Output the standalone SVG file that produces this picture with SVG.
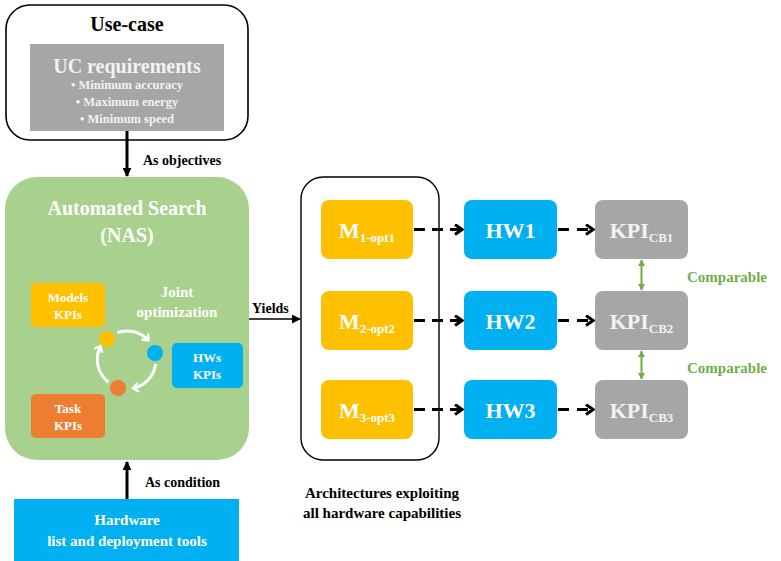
<svg xmlns="http://www.w3.org/2000/svg" width="781" height="561" viewBox="0 0 781 561">
<defs>
<style>
.c{text-anchor:middle}
.w{fill:#ffffff}
.lg{fill:#f2f2f2}
.k{fill:#000000}
.g{fill:#70ad47}
.dash{stroke:#000;stroke-width:3;stroke-dasharray:11 7;fill:none;marker-end:url(#chev)}
.loop{stroke:#fff;stroke-width:3;fill:none;marker-end:url(#wchev)}
</style>
<marker id="chev" viewBox="0 0 10 12" refX="8" refY="6" markerWidth="10" markerHeight="12" markerUnits="userSpaceOnUse" orient="auto">
<path d="M1,1 L8,6 L1,11" fill="none" stroke="#000" stroke-width="3"/>
</marker>
<marker id="wchev" viewBox="0 0 10 12" refX="7" refY="6" markerWidth="9" markerHeight="11" markerUnits="userSpaceOnUse" orient="auto">
<path d="M1,1 L7,6 L1,11" fill="none" stroke="#fff" stroke-width="2.6"/>
</marker>
<marker id="tri" viewBox="0 0 10 10" refX="9" refY="5" markerWidth="9" markerHeight="9" markerUnits="userSpaceOnUse" orient="auto">
<path d="M0,0 L10,5 L0,10 z" fill="#000"/>
</marker>
<marker id="gtri" viewBox="0 0 10 10" refX="9" refY="5" markerWidth="7" markerHeight="7" markerUnits="userSpaceOnUse" orient="auto-start-reverse">
<path d="M0,0 L10,5 L0,10 z" fill="#70ad47"/>
</marker>
</defs>
<rect width="781" height="561" fill="#ffffff"/>

<g id="usecase">
<rect x="6" y="5" width="242" height="135" rx="24" fill="#fff" stroke="#000" stroke-width="1.6"/>
<text x="127" y="31" font-family="Liberation Serif" font-weight="bold" font-size="20" class="c k">Use-case</text>
<rect x="30" y="44" width="194" height="87" fill="#a6a6a6"/>
<text x="127" y="73" font-family="Liberation Serif" font-weight="bold" font-size="20" class="c lg">UC requirements</text>
<text x="127" y="89" font-family="Liberation Serif" font-weight="bold" font-size="12.5" class="c lg">&#8226;  Minimum accuracy</text>
<text x="127" y="106" font-family="Liberation Serif" font-weight="bold" font-size="12.5" class="c lg">&#8226;  Maximum energy</text>
<text x="127" y="123" font-family="Liberation Serif" font-weight="bold" font-size="12.5" class="c lg">&#8226;  Minimum speed</text>
</g>

<g id="nas">
<rect x="5" y="177" width="244" height="283" rx="32" fill="#a9d18e"/>
<text x="127" y="215" font-family="Liberation Serif" font-weight="bold" font-size="20" class="c w">Automated Search</text>
<text x="127" y="242" font-family="Liberation Serif" font-weight="bold" font-size="20" class="c w">(NAS)</text>
<g id="models-kpis">
<rect x="31" y="283" width="74" height="44" rx="5" fill="#ffc000"/>
<text x="68" y="302" font-family="Liberation Serif" font-weight="bold" font-size="13" class="c w">Models</text>
<text x="68" y="319" font-family="Liberation Serif" font-weight="bold" font-size="13" class="c w">KPIs</text>
</g>
<g id="task-kpis">
<rect x="31" y="394" width="74" height="44" rx="5" fill="#ed7d31"/>
<text x="68" y="413" font-family="Liberation Serif" font-weight="bold" font-size="13" class="c w">Task</text>
<text x="68" y="430" font-family="Liberation Serif" font-weight="bold" font-size="13" class="c w">KPIs</text>
</g>
<g id="hws-kpis">
<rect x="172" y="343" width="71" height="45" rx="5" fill="#00b0f0"/>
<text x="207" y="362" font-family="Liberation Serif" font-weight="bold" font-size="13" class="c w">HWs</text>
<text x="207" y="379" font-family="Liberation Serif" font-weight="bold" font-size="13" class="c w">KPIs</text>
</g>
<g id="joint">
<text x="177" y="297" font-family="Liberation Serif" font-weight="bold" font-size="15" class="c w">Joint</text>
<text x="177" y="317" font-family="Liberation Serif" font-weight="bold" font-size="15" class="c w">optimization</text>
<circle cx="107" cy="339" r="8" fill="#ffc000"/>
<circle cx="155" cy="353" r="8" fill="#00b0f0"/>
<circle cx="118" cy="388" r="8" fill="#ed7d31"/>
<path class="loop" d="M117.1,332.7 A29,29 0 0 1 148.5,340.5"/>
<path class="loop" d="M155.7,364 A29,29 0 0 1 133,388.4"/>
<path class="loop" d="M108.4,382.2 A29,29 0 0 1 100.5,346"/>
</g>
</g>

<g id="hardware">
<rect x="14" y="499" width="225" height="62" fill="#00b0f0"/>
<text x="127" y="525" font-family="Liberation Serif" font-weight="bold" font-size="15" class="c w">Hardware</text>
<text x="127" y="546" font-family="Liberation Serif" font-weight="bold" font-size="15" class="c w">list and deployment tools</text>
</g>

<g id="architectures">
<rect x="301" y="177" width="138" height="283" rx="22" fill="none" stroke="#000" stroke-width="1.4"/>
<text x="382" y="498" font-family="Liberation Serif" font-weight="bold" font-size="15" class="c k">Architectures exploiting</text>
<text x="382" y="518" font-family="Liberation Serif" font-weight="bold" font-size="15" class="c k">all hardware capabilities</text>
</g>

<g id="m1"><rect x="321" y="200" width="92" height="59" rx="8" fill="#ffc000"/>
<text x="367" y="238" font-family="Liberation Serif" font-weight="bold" font-size="22" class="c w">M<tspan font-size="13" dy="4">1-opt1</tspan></text></g>
<g id="m2"><rect x="321" y="291" width="92" height="59" rx="8" fill="#ffc000"/>
<text x="367" y="329" font-family="Liberation Serif" font-weight="bold" font-size="22" class="c w">M<tspan font-size="13" dy="4">2-opt2</tspan></text></g>
<g id="m3"><rect x="321" y="380" width="92" height="59" rx="8" fill="#ffc000"/>
<text x="367" y="418" font-family="Liberation Serif" font-weight="bold" font-size="22" class="c w">M<tspan font-size="13" dy="4">3-opt3</tspan></text></g>

<g id="hw1"><rect x="464" y="200" width="93" height="59" rx="8" fill="#00b0f0"/>
<text x="510.5" y="238" font-family="Liberation Serif" font-weight="bold" font-size="22" class="c w">HW1</text></g>
<g id="hw2"><rect x="464" y="291" width="93" height="59" rx="8" fill="#00b0f0"/>
<text x="510.5" y="329" font-family="Liberation Serif" font-weight="bold" font-size="22" class="c w">HW2</text></g>
<g id="hw3"><rect x="464" y="380" width="93" height="59" rx="8" fill="#00b0f0"/>
<text x="510.5" y="418" font-family="Liberation Serif" font-weight="bold" font-size="22" class="c w">HW3</text></g>

<g id="kpi1"><rect x="595" y="200" width="93" height="59" rx="8" fill="#a6a6a6"/>
<text x="641.5" y="238" font-family="Liberation Serif" font-weight="bold" font-size="22" class="c lg">KPI<tspan font-size="13" dy="4">CB1</tspan></text></g>
<g id="kpi2"><rect x="595" y="291" width="93" height="59" rx="8" fill="#a6a6a6"/>
<text x="641.5" y="329" font-family="Liberation Serif" font-weight="bold" font-size="22" class="c lg">KPI<tspan font-size="13" dy="4">CB2</tspan></text></g>
<g id="kpi3"><rect x="595" y="380" width="93" height="59" rx="8" fill="#a6a6a6"/>
<text x="641.5" y="418" font-family="Liberation Serif" font-weight="bold" font-size="22" class="c lg">KPI<tspan font-size="13" dy="4">CB3</tspan></text></g>

<g id="connectors">
<line x1="127" y1="131" x2="127" y2="176" stroke="#000" stroke-width="3" marker-end="url(#tri)"/>
<text x="143" y="165" font-family="Liberation Serif" font-weight="bold" font-size="14" class="k">As objectives</text>
<line x1="127" y1="499" x2="127" y2="462" stroke="#000" stroke-width="3" marker-end="url(#tri)"/>
<text x="145" y="487" font-family="Liberation Serif" font-weight="bold" font-size="14" class="k">As condition</text>
<line x1="249" y1="319" x2="300" y2="319" stroke="#000" stroke-width="1.5" marker-end="url(#tri)"/>
<text x="252" y="313" font-family="Liberation Serif" font-weight="bold" font-size="14" class="k">Yields</text>
<line class="dash" x1="414" y1="229.5" x2="462" y2="229.5"/>
<line class="dash" x1="414" y1="320.5" x2="462" y2="320.5"/>
<line class="dash" x1="414" y1="409.5" x2="462" y2="409.5"/>
<line class="dash" x1="558" y1="229.5" x2="593" y2="229.5" style="stroke-dasharray:11 8"/>
<line class="dash" x1="558" y1="320.5" x2="593" y2="320.5" style="stroke-dasharray:11 8"/>
<line class="dash" x1="558" y1="409.5" x2="593" y2="409.5" style="stroke-dasharray:11 8"/>
<line x1="641.5" y1="260" x2="641.5" y2="290" stroke="#70ad47" stroke-width="2" marker-start="url(#gtri)" marker-end="url(#gtri)"/>
<line x1="641.5" y1="351" x2="641.5" y2="379" stroke="#70ad47" stroke-width="2" marker-start="url(#gtri)" marker-end="url(#gtri)"/>
<text x="687" y="282" font-family="Liberation Serif" font-weight="bold" font-size="15" class="g">Comparable</text>
<text x="687" y="373" font-family="Liberation Serif" font-weight="bold" font-size="15" class="g">Comparable</text>
</g>
</svg>
